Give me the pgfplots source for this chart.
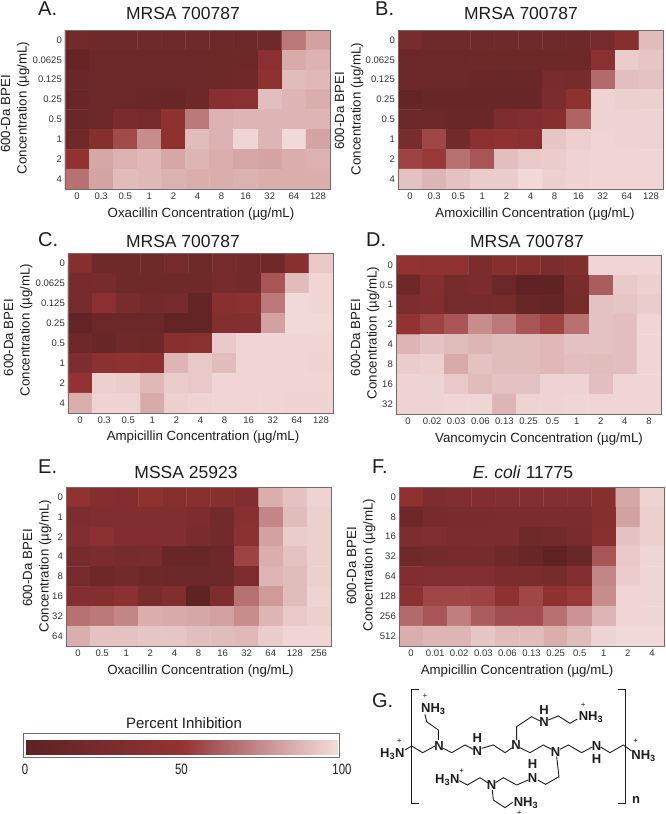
\documentclass[border=0pt]{standalone}
\usepackage{fontspec}
\setmainfont{Liberation Sans}
\newfontfamily\narrowfont[FakeStretch=0.76]{Liberation Sans}
\usepackage{pgfplots}
\pgfplotsset{compat=1.18}
\definecolor{frame}{RGB}{120,105,105}
\definecolor{ticktxt}{RGB}{50,50,50}
\definecolor{labtxt}{RGB}{30,30,30}
\pgfplotsset{
  colormap={inhib}{rgb255=(93,34,34) rgb255=(120,44,44) rgb255=(147,50,50) rgb255=(197,138,138) rgb255=(243,221,219)},
  every axis title shift=0pt,
  hm/.style={
    scale only axis, width=265pt, height=159pt, anchor=south west,
    colormap name=inhib, point meta min=0, point meta max=100,
    y dir=reverse, xmin=-0.5, xmax=10.5, ymin=-0.5, ymax=7.5,
    xtick={0,...,10}, ytick={0,...,7}, major tick length=0pt,
    axis line style={draw=frame,line width=0.9pt},
    /pgf/number format/assume math mode=true,
    xticklabel style={anchor=base,yshift=-10pt,font=\fontsize{9.5}{11}\selectfont,text=ticktxt},
    yticklabel style={font=\fontsize{9.5}{11}\selectfont,text=ticktxt,inner sep=0pt,xshift=-3pt},
    title style={at={(0.5,1)},anchor=base,font=\fontsize{17.5}{20}\selectfont,text=labtxt},
    xlabel style={at={(0.5,0)},anchor=base,font=\fontsize{13.3}{16}\selectfont,text=labtxt},
    ylabel style={at={(axis description cs:0,0.5)},anchor=center,align=center,font=\fontsize{13.3}{16.5}\selectfont,text=labtxt},
  },
  offs/.style n args={7}{
    title style={xshift=#1pt,yshift=#2pt},
    xlabel style={xshift=#3pt,yshift=#4pt},
    ylabel style={xshift=#5pt,yshift=#6pt},
    ylabel={600-Da BPEI\hspace*{#7pt}\\Concentration (µg/mL)},
  },
  cells/.style={matrix plot, shader=faceted, faceted color=mapped color, line width=0.3pt, mesh/cols=11, point meta=explicit},
}
\begin{document}
\begin{tikzpicture}
\useasboundingbox (0pt,0pt) rectangle (666pt,-814pt);

% A
\begin{axis}[hm, at={(65pt,-189pt)}, offs={-14.5}{11}{3.5}{-28}{1.5}{50}{12},
  title={MRSA 700787}, xlabel={Oxacillin Concentration (µg/mL)},
  xticklabels={0,0.3,0.5,1,2,4,8,16,32,64,128},
  yticklabels={0,0.0625,0.125,0.25,0.5,1,2,4}]
\addplot[cells] coordinates {
(0,0)[20] (1,0)[18] (2,0)[18] (3,0)[18] (4,0)[18] (5,0)[18] (6,0)[16] (7,0)[16] (8,0)[18] (9,0)[70] (10,0)[82]
(0,1)[8] (1,1)[14] (2,1)[14] (3,1)[14] (4,1)[14] (5,1)[14] (6,1)[15] (7,1)[16] (8,1)[42] (9,1)[85] (10,1)[87]
(0,2)[12] (1,2)[14] (2,2)[14] (3,2)[14] (4,2)[14] (5,2)[14] (6,2)[16] (7,2)[18] (8,2)[45] (9,2)[90] (10,2)[89]
(0,3)[10] (1,3)[14] (2,3)[14] (3,3)[13] (4,3)[10] (5,3)[16] (6,3)[40] (7,3)[42] (8,3)[91] (9,3)[88] (10,3)[86]
(0,4)[12] (1,4)[14] (2,4)[25] (3,4)[22] (4,4)[45] (5,4)[70] (6,4)[87] (7,4)[88] (8,4)[88] (9,4)[88] (10,4)[88]
(0,5)[18] (1,5)[38] (2,5)[57] (3,5)[76] (4,5)[46] (5,5)[90] (6,5)[87] (7,5)[98] (8,5)[88] (9,5)[99] (10,5)[83]
(0,6)[48] (1,6)[84] (2,6)[87] (3,6)[89] (4,6)[84] (5,6)[88] (6,6)[86] (7,6)[84] (8,6)[83] (9,6)[86] (10,6)[87]
(0,7)[68] (1,7)[83] (2,7)[90] (3,7)[89] (4,7)[87] (5,7)[86] (6,7)[86] (7,7)[87] (8,7)[86] (9,7)[86] (10,7)[86]
};
\end{axis}

% B
\begin{axis}[hm, at={(398pt,-189pt)}, offs={-9.5}{11}{4.5}{-28}{0.5}{49}{4},
  title={MRSA 700787}, xlabel={Amoxicillin Concentration (µg/mL)},
  xticklabels={0,0.3,0.5,1,2,4,8,16,32,64,128},
  yticklabels={0,0.0625,0.125,0.25,0.5,1,2,4}]
\addplot[cells] coordinates {
(0,0)[25] (1,0)[18] (2,0)[18] (3,0)[18] (4,0)[18] (5,0)[18] (6,0)[18] (7,0)[16] (8,0)[22] (9,0)[38] (10,0)[90]
(0,1)[14] (1,1)[14] (2,1)[14] (3,1)[15] (4,1)[15] (5,1)[15] (6,1)[16] (7,1)[16] (8,1)[43] (9,1)[95] (10,1)[93]
(0,2)[14] (1,2)[14] (2,2)[14] (3,2)[13] (4,2)[12] (5,2)[13] (6,2)[26] (7,2)[24] (8,2)[66] (9,2)[91] (10,2)[92]
(0,3)[8] (1,3)[10] (2,3)[10] (3,3)[10] (4,3)[10] (5,3)[10] (6,3)[28] (7,3)[45] (8,3)[97] (9,3)[96] (10,3)[96]
(0,4)[14] (1,4)[14] (2,4)[12] (3,4)[12] (4,4)[30] (5,4)[32] (6,4)[38] (7,4)[64] (8,4)[97] (9,4)[97] (10,4)[97]
(0,5)[25] (1,5)[56] (2,5)[20] (3,5)[42] (4,5)[46] (5,5)[42] (6,5)[93] (7,5)[96] (8,5)[98] (9,5)[97] (10,5)[97]
(0,6)[55] (1,6)[52] (2,6)[68] (3,6)[60] (4,6)[91] (5,6)[94] (6,6)[95] (7,6)[97] (8,6)[98] (9,6)[98] (10,6)[98]
(0,7)[92] (1,7)[88] (2,7)[92] (3,7)[95] (4,7)[95] (5,7)[99] (6,7)[96] (7,7)[97] (8,7)[98] (9,7)[98] (10,7)[98]
};
\end{axis}

% C
\begin{axis}[hm, at={(68pt,-413pt)}, height=160pt, offs={-17.5}{6}{2.5}{-27}{3}{50}{15},
  title={MRSA 700787}, xlabel={Ampicillin Concentration (µg/mL)},
  xticklabels={0,0.3,0.5,1,2,4,8,16,32,64,128},
  yticklabels={0,0.0625,0.125,0.25,0.5,1,2,4}]
\addplot[cells] coordinates {
(0,0)[38] (1,0)[18] (2,0)[18] (3,0)[18] (4,0)[22] (5,0)[18] (6,0)[22] (7,0)[20] (8,0)[18] (9,0)[40] (10,0)[94]
(0,1)[22] (1,1)[24] (2,1)[18] (3,1)[18] (4,1)[18] (5,1)[18] (6,1)[22] (7,1)[20] (8,1)[60] (9,1)[90] (10,1)[98]
(0,2)[22] (1,2)[42] (2,2)[26] (3,2)[20] (4,2)[22] (5,2)[5] (6,2)[40] (7,2)[44] (8,2)[70] (9,2)[99] (10,2)[98]
(0,3)[5] (1,3)[14] (2,3)[14] (3,3)[14] (4,3)[6] (5,3)[6] (6,3)[36] (7,3)[36] (8,3)[82] (9,3)[99] (10,3)[99]
(0,4)[16] (1,4)[10] (2,4)[18] (3,4)[16] (4,4)[40] (5,4)[42] (6,4)[94] (7,4)[98] (8,4)[98] (9,4)[98] (10,4)[98]
(0,5)[30] (1,5)[44] (2,5)[46] (3,5)[44] (4,5)[88] (5,5)[94] (6,5)[90] (7,5)[98] (8,5)[98] (9,5)[98] (10,5)[97]
(0,6)[50] (1,6)[96] (2,6)[95] (3,6)[89] (4,6)[95] (5,6)[94] (6,6)[98] (7,6)[98] (8,6)[98] (9,6)[98] (10,6)[98]
(0,7)[86] (1,7)[97] (2,7)[97] (3,7)[85] (4,7)[96] (5,7)[97] (6,7)[98] (7,7)[98] (8,7)[98] (9,7)[97] (10,7)[97]
};
\end{axis}

% D
\begin{axis}[hm, at={(396pt,-414pt)}, offs={-1.5}{8}{10.5}{-28}{1.5}{31}{9},
  title={MRSA 700787}, xlabel={Vancomycin Concentration (µg/mL)},
  xticklabels={0,0.02,0.03,0.06,0.13,0.25,0.5,1,2,4,8},
  yticklabels={0,0.5,1,2,4,8,16,32}]
\addplot[cells] coordinates {
(0,0)[50] (1,0)[48] (2,0)[48] (3,0)[28] (4,0)[38] (5,0)[38] (6,0)[28] (7,0)[32] (8,0)[98] (9,0)[98] (10,0)[98]
(0,1)[16] (1,1)[36] (2,1)[24] (3,1)[28] (4,1)[14] (5,1)[3] (6,1)[3] (7,1)[26] (8,1)[62] (9,1)[94] (10,1)[96]
(0,2)[30] (1,2)[34] (2,2)[22] (3,2)[22] (4,2)[24] (5,2)[10] (6,2)[8] (7,2)[24] (8,2)[92] (9,2)[93] (10,2)[95]
(0,3)[50] (1,3)[55] (2,3)[60] (3,3)[76] (4,3)[70] (5,3)[60] (6,3)[55] (7,3)[68] (8,3)[92] (9,3)[91] (10,3)[98]
(0,4)[88] (1,4)[92] (2,4)[90] (3,4)[88] (4,4)[90] (5,4)[90] (6,4)[89] (7,4)[92] (8,4)[92] (9,4)[91] (10,4)[98]
(0,5)[95] (1,5)[96] (2,5)[85] (3,5)[92] (4,5)[90] (5,5)[90] (6,5)[89] (7,5)[91] (8,5)[90] (9,5)[91] (10,5)[98]
(0,6)[97] (1,6)[97] (2,6)[94] (3,6)[90] (4,6)[92] (5,6)[92] (6,6)[97] (7,6)[97] (8,6)[91] (9,6)[98] (10,6)[98]
(0,7)[97] (1,7)[97] (2,7)[98] (3,7)[98] (4,7)[88] (5,7)[97] (6,7)[97] (7,7)[98] (8,7)[98] (9,7)[98] (10,7)[98]
};
\end{axis}

% E
\begin{axis}[hm, at={(66pt,-646pt)}, offs={-12.5}{9}{2}{-28}{0.5}{29}{4},
  title={MSSA 25923}, xlabel={Oxacillin Concentration (ng/mL)},
  xticklabels={0,0.5,1,2,4,8,16,32,64,128,256},
  yticklabels={0,1,2,4,8,16,32,64}]
\addplot[cells] coordinates {
(0,0)[48] (1,0)[36] (2,0)[34] (3,0)[45] (4,0)[38] (5,0)[40] (6,0)[38] (7,0)[34] (8,0)[86] (9,0)[92] (10,0)[97]
(0,1)[30] (1,1)[32] (2,1)[32] (3,1)[32] (4,1)[32] (5,1)[30] (6,1)[20] (7,1)[40] (8,1)[74] (9,1)[90] (10,1)[96]
(0,2)[32] (1,2)[42] (2,2)[34] (3,2)[34] (4,2)[32] (5,2)[26] (6,2)[20] (7,2)[44] (8,2)[82] (9,2)[95] (10,2)[96]
(0,3)[22] (1,3)[28] (2,3)[24] (3,3)[26] (4,3)[10] (5,3)[10] (6,3)[14] (7,3)[55] (8,3)[86] (9,3)[92] (10,3)[96]
(0,4)[22] (1,4)[16] (2,4)[20] (3,4)[16] (4,4)[14] (5,4)[14] (6,4)[14] (7,4)[30] (8,4)[88] (9,4)[90] (10,4)[96]
(0,5)[36] (1,5)[36] (2,5)[44] (3,5)[26] (4,5)[32] (5,5)[3] (6,5)[30] (7,5)[68] (8,5)[80] (9,5)[90] (10,5)[97]
(0,6)[68] (1,6)[70] (2,6)[74] (3,6)[86] (4,6)[85] (5,6)[84] (6,6)[82] (7,6)[76] (8,6)[88] (9,6)[94] (10,6)[96]
(0,7)[86] (1,7)[92] (2,7)[92] (3,7)[93] (4,7)[93] (5,7)[91] (6,7)[90] (7,7)[89] (8,7)[95] (9,7)[98] (10,7)[98]
};
\end{axis}

% F
\begin{axis}[hm, at={(399pt,-646pt)}, offs={-8.5}{9}{-14.5}{-28}{1.5}{38}{2},
  title={\textit{E. coli} 11775}, xlabel={Ampicillin Concentration (µg/mL)},
  xticklabels={0,0.01,0.02,0.03,0.06,0.13,0.25,0.5,1,2,4},
  yticklabels={0,8,16,32,64,128,256,512}]
\addplot[cells] coordinates {
(0,0)[46] (1,0)[30] (2,0)[32] (3,0)[34] (4,0)[36] (5,0)[36] (6,0)[36] (7,0)[36] (8,0)[38] (9,0)[84] (10,0)[97]
(0,1)[16] (1,1)[24] (2,1)[26] (3,1)[26] (4,1)[28] (5,1)[28] (6,1)[28] (7,1)[28] (8,1)[38] (9,1)[82] (10,1)[96]
(0,2)[30] (1,2)[32] (2,2)[28] (3,2)[28] (4,2)[28] (5,2)[18] (6,2)[20] (7,2)[26] (8,2)[40] (9,2)[92] (10,2)[96]
(0,3)[18] (1,3)[20] (2,3)[22] (3,3)[24] (4,3)[18] (5,3)[10] (6,3)[3] (7,3)[12] (8,3)[60] (9,3)[94] (10,3)[98]
(0,4)[34] (1,4)[36] (2,4)[36] (3,4)[36] (4,4)[28] (5,4)[28] (6,4)[24] (7,4)[36] (8,4)[74] (9,4)[95] (10,4)[98]
(0,5)[44] (1,5)[56] (2,5)[56] (3,5)[55] (4,5)[46] (5,5)[56] (6,5)[46] (7,5)[52] (8,5)[76] (9,5)[98] (10,5)[98]
(0,6)[66] (1,6)[60] (2,6)[72] (3,6)[62] (4,6)[58] (5,6)[58] (6,6)[68] (7,6)[78] (8,6)[88] (9,6)[98] (10,6)[98]
(0,7)[86] (1,7)[88] (2,7)[88] (3,7)[93] (4,7)[90] (5,7)[90] (6,7)[86] (7,7)[90] (8,7)[97] (9,7)[99] (10,7)[99]
};
\end{axis}

% colour bar
\begin{axis}[hide axis, scale only axis, width=313pt, height=20pt, at={(25pt,-755pt)}, anchor=south west,
  colormap name=inhib, point meta min=0, point meta max=100,
  colorbar horizontal,
  colorbar style={
    at={(0,0)}, anchor=south west, width=313pt, height=20pt,
    axis line style={draw=white,line width=0.8pt},
    xtick={0,50,100}, xticklabels={0,50,\hspace*{8pt}100}, major tick length=0pt,
    xticklabel pos=lower,
    xticklabel style={anchor=base,yshift=-19pt,font=\narrowfont\fontsize{15}{17}\selectfont,text=labtxt},
    title={Percent Inhibition},
    title style={at={(0.5,1)},anchor=base,xshift=2.5pt,yshift=7pt,font=\fontsize{15}{18}\selectfont,text=labtxt},
  }]
\end{axis}
\draw[frame,line width=0.9pt] (23.5pt,-733pt) rectangle (339pt,-757pt);

% panel letters
\foreach \l/\x/\y in {A./38/15,B./375/15,C./38/246,D./366/246,E./38/473,F./372/473}
  \node[anchor=base west,inner sep=0pt,font=\fontsize{20}{22}\selectfont,text=labtxt] at (\x pt,-\y pt) {\l};

% structure G, coordinates in 3x crop pixels
\begin{scope}[shift={(370pt,-685pt)},x=0.3333pt,y=-0.3333pt,line width=0.9pt,draw=labtxt]
\draw (147,12) -- (125,12) -- (125,355) -- (147,355);
\draw (745,12) -- (767,12) -- (767,355) -- (745,355);
\draw (105,195) -- (125,183) -- (158,203) -- (195,183);
\draw (205,165) -- (205,135) -- (170,110) -- (165,88);
\draw (220,190) -- (245,203) -- (285,180) -- (310,193);
\draw (335,190) -- (370,180) -- (405,203) -- (427,188);
\draw (440,165) -- (440,125) -- (485,95) -- (510,108);
\draw (535,105) -- (565,93) -- (600,115) -- (622,102);
\draw (450,188) -- (480,203) -- (520,180) -- (545,193);
\draw (570,193) -- (595,180) -- (635,203) -- (667,186);
\draw (692,186) -- (720,203) -- (760,180) -- (785,198);
\draw (560,215) -- (567,275) -- (527,298) -- (503,285);
\draw (475,285) -- (440,300) -- (400,278) -- (377,293);
\draw (353,293) -- (330,278) -- (292,300) -- (268,287);
\draw (367,315) -- (370,345) -- (405,368) -- (428,352);
\tikzset{chem/.style={inner sep=0pt,font=\bfseries\fontsize{13}{15}\selectfont,text=labtxt},
  plus/.style={inner sep=0pt,font=\fontsize{8}{9}\selectfont,text=labtxt}}
\foreach \x/\y in {207/183,322/198,438/180,522/112,557/200,680/182,488/280,365/300}
  \node[chem] at (\x,\y) {N};
\foreach \x/\y in {322/158,522/75,680/222,488/238}
  \node[chem] at (\x,\y) {H};
\node[chem,anchor=base east] at (105,218) {H\textsubscript{3}N};
\node[chem,anchor=base east] at (270,295) {H\textsubscript{3}N};
\node[chem,anchor=base west] at (152,83) {NH\textsubscript{3}};
\node[chem,anchor=base west] at (625,107) {NH\textsubscript{3}};
\node[chem,anchor=base west] at (783,222) {NH\textsubscript{3}};
\node[chem,anchor=base west] at (430,365) {NH\textsubscript{3}};
\foreach \x/\y in {88/170,165/35,640/60,797/170,275/258,448/384}
  \node[plus] at (\x,\y) {+};
\node[chem,anchor=base west] at (785,355) {n};
\node[anchor=base west,inner sep=0pt,font=\fontsize{20}{22}\selectfont,text=labtxt] at (5,68) {G.};
\end{scope}
\end{tikzpicture}
\end{document}
